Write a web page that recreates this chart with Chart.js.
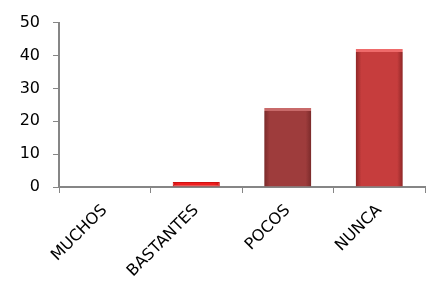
<!DOCTYPE html>
<html>
<head>
<meta charset="utf-8">
<script src="https://cdn.jsdelivr.net/npm/chart.js@4"></script>
<style>
html,body{margin:0;padding:0;background:#fff;}
#wrap{width:426px;height:286px;}
</style>
</head>
<body>
<div id="wrap"><canvas id="c" width="426" height="286"></canvas></div>
<script>
const categories = ['MUCHOS', 'BASTANTES', 'POCOS', 'NUNCA'];
const values = [0, 1.5, 24, 42];
const yTicks = [0, 10, 20, 30, 40, 50];

const barMain = ['#c83c3c', '#ee1e1e', '#9e3c3c', '#c63d3d'];
const barEdge = ['#8e2727', '#d01010', '#7a2a2a', '#8e2727'];
const barTop  = ['#e07070', '#d01010', '#c86a6a', '#ee6a6a'];
const BAR_PCT = 0.515;

function barFill(ctx) {
  const chart = ctx.chart;
  const i = ctx.dataIndex;
  if (!chart.chartArea || !chart.scales.x) return barMain[i];
  const xs = chart.scales.x;
  const cx = xs.getPixelForValue(i);
  const half = (xs.width / categories.length) * BAR_PCT / 2;
  const g = chart.ctx.createLinearGradient(cx - half, 0, cx + half, 0);
  g.addColorStop(0, barEdge[i]);
  g.addColorStop(0.12, barMain[i]);
  g.addColorStop(0.88, barMain[i]);
  g.addColorStop(1, barEdge[i]);
  return g;
}

const font = {family: '"DejaVu Sans", sans-serif', size: 16};

new Chart(document.getElementById('c'), {
  type: 'bar',
  data: {
    labels: categories,
    datasets: [{
      data: values,
      backgroundColor: barFill,
      borderColor: (ctx) => barTop[ctx.dataIndex],
      borderWidth: (ctx) => ctx.dataIndex === 1 ? 1 : {top: 3, left: 0, right: 0, bottom: 0},
      borderSkipped: (ctx) => ctx.dataIndex === 1 ? false : 'bottom',
      barPercentage: BAR_PCT,
      categoryPercentage: 1
    }]
  },
  options: {
    responsive: false,
    devicePixelRatio: 1,
    animation: false,
    layout: {padding: {top: 20, right: 1, left: 0, bottom: 0}},
    plugins: {legend: {display: false}, tooltip: {enabled: false}},
    scales: {
      x: {
        grid: {display: true, drawOnChartArea: false, drawTicks: true, tickLength: 6, color: '#868686', offset: true},
        border: {display: true, color: '#868686', width: 2},
        ticks: {color: '#000', font: font, maxRotation: 45, minRotation: 45, padding: 8},
        afterFit(scale) { scale.height = 99; }
      },
      y: {
        min: 0, max: 50,
        afterBuildTicks(scale) { scale.ticks = yTicks.map(v => ({value: v})); },
        grid: {display: true, drawOnChartArea: false, drawTicks: true, tickLength: 6, color: '#868686'},
        border: {display: true, color: '#868686', width: 2},
        ticks: {color: '#000', font: font, padding: 13},
        afterFit(scale) { scale.width = 59; }
      }
    }
  }
});
</script>
</body>
</html>
